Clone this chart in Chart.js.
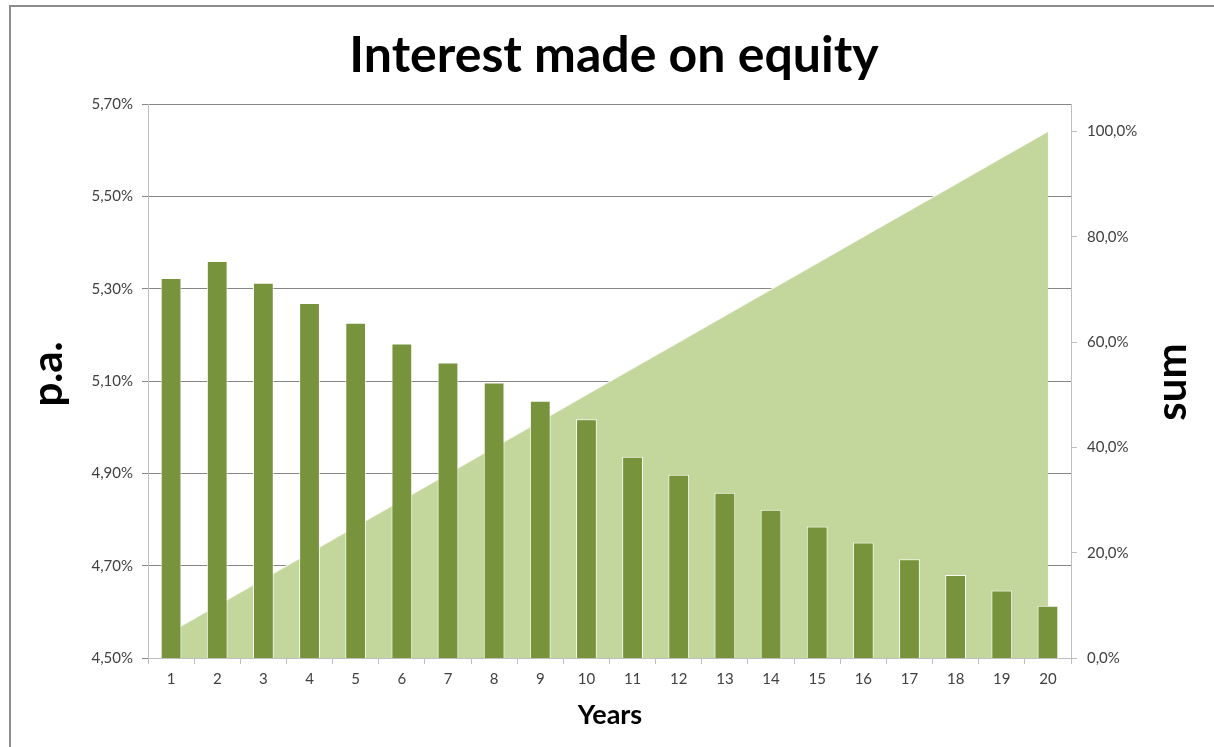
<!DOCTYPE html>
<html>
<head>
<meta charset="utf-8">
<title>Interest made on equity</title>
<script src="https://cdn.jsdelivr.net/npm/chart.js@4.4.1/dist/chart.umd.min.js"></script>
<style>
    body { margin: 0; background: #fff; }
    canvas { display: block; }
</style>
</head>
<body>
<canvas id="chart" width="1214" height="747"></canvas>
<script>
const years = ["1", "2", "3", "4", "5", "6", "7", "8", "9", "10", "11", "12", "13", "14", "15", "16", "17", "18", "19", "20"];
const interestPa = [5.323, 5.360, 5.313, 5.269, 5.226, 5.181, 5.140, 5.097, 5.057, 5.017, 4.936, 4.897, 4.858, 4.821, 4.785, 4.750, 4.714, 4.680, 4.646, 4.613];
const sumPercent = [5, 10, 15, 20, 25, 30, 35, 40, 45, 50, 55, 60, 65, 70, 75, 80, 85, 90, 95, 100];
const leftTicks = [4.5, 4.7, 4.9, 5.1, 5.3, 5.5, 5.7];
const rightTicks = [0, 20, 40, 60, 80, 100];

const fontName = "Lato, 'Open Sans', sans-serif";
const textColor = "#404040";

const textPlugin = {
    id: "textPlugin",
    afterDraw: function (chart) {
        const ctx = chart.ctx;
        ctx.save();

        // frame of the chart object
        ctx.fillStyle = "#8c8c8c";
        ctx.fillRect(9, 5, 1214, 2);
        ctx.fillRect(9, 5, 2, 747);

        ctx.fillStyle = "#000";
        ctx.textAlign = "center";
        ctx.textBaseline = "alphabetic";

        ctx.font = "bold 50px " + fontName;
        ctx.fillText("Interest made on equity", 614, 72);

        ctx.font = "bold 27px " + fontName;
        ctx.fillText("Years", 610, 724);

        ctx.font = "bold 42px " + fontName;
        ctx.save();
        ctx.translate(62, 374);
        ctx.rotate(-Math.PI / 2);
        ctx.fillText("p.a.", 0, 0);
        ctx.restore();

        ctx.save();
        ctx.translate(1186, 382);
        ctx.rotate(-Math.PI / 2);
        ctx.fillText("sum", 0, 0);
        ctx.restore();

        ctx.restore();
    }
};

new Chart(document.querySelector("#chart"), {
    data: {
        labels: years,
        datasets: [{
            type: "bar",
            label: "p.a.",
            data: interestPa,
            yAxisID: "y",
            backgroundColor: "#77933C",
            borderColor: "rgba(255,255,255,0.9)",
            borderWidth: 1,
            barPercentage: 0.45,
            categoryPercentage: 1,
            order: 0
        }, {
            type: "line",
            label: "sum",
            data: sumPercent,
            yAxisID: "y2",
            backgroundColor: "#C3D69B",
            borderColor: "rgba(255,255,255,0.7)",
            borderWidth: 1.5,
            pointRadius: 0,
            tension: 0,
            fill: "origin",
            order: 1
        }]
    },
    options: {
        responsive: false,
        animation: false,
        devicePixelRatio: 1,
        layout: {
            padding: { top: 104, left: 0, right: 0, bottom: 0 }
        },
        plugins: {
            legend: { display: false },
            tooltip: { enabled: false },
            title: { display: false }
        },
        scales: {
            x: {
                offset: true,
                grid: {
                    offset: true,
                    drawOnChartArea: false,
                    color: "#bfbfbf",
                    tickLength: 6
                },
                border: { color: "#bfbfbf" },
                ticks: {
                    color: textColor,
                    font: { family: fontName, size: 15 },
                    padding: 6,
                    maxRotation: 0
                },
                afterFit: function (scale) {
                    scale.height = 89;
                }
            },
            y: {
                position: "left",
                min: 4.5,
                max: 5.7,
                afterBuildTicks: function (scale) {
                    scale.ticks = leftTicks.map(v => ({ value: v }));
                },
                grid: {
                    color: "#868686",
                    tickLength: 6
                },
                border: { color: "#bfbfbf" },
                ticks: {
                    color: textColor,
                    font: { family: fontName, size: 15 },
                    padding: 9,
                    callback: function (value) {
                        return value.toFixed(2).replace(".", ",") + "%";
                    }
                },
                afterFit: function (scale) {
                    scale.width = 148;
                }
            },
            y2: {
                position: "right",
                min: 0,
                max: 105.2,
                afterBuildTicks: function (scale) {
                    scale.ticks = rightTicks.map(v => ({ value: v }));
                },
                grid: {
                    drawOnChartArea: false,
                    color: "#bfbfbf",
                    tickLength: 6
                },
                border: { color: "#bfbfbf" },
                ticks: {
                    color: textColor,
                    font: { family: fontName, size: 15 },
                    padding: 10,
                    callback: function (value) {
                        return value.toFixed(1).replace(".", ",") + "%";
                    }
                },
                afterFit: function (scale) {
                    scale.width = 143;
                }
            }
        }
    },
    plugins: [textPlugin]
});
</script>
</body>
</html>
